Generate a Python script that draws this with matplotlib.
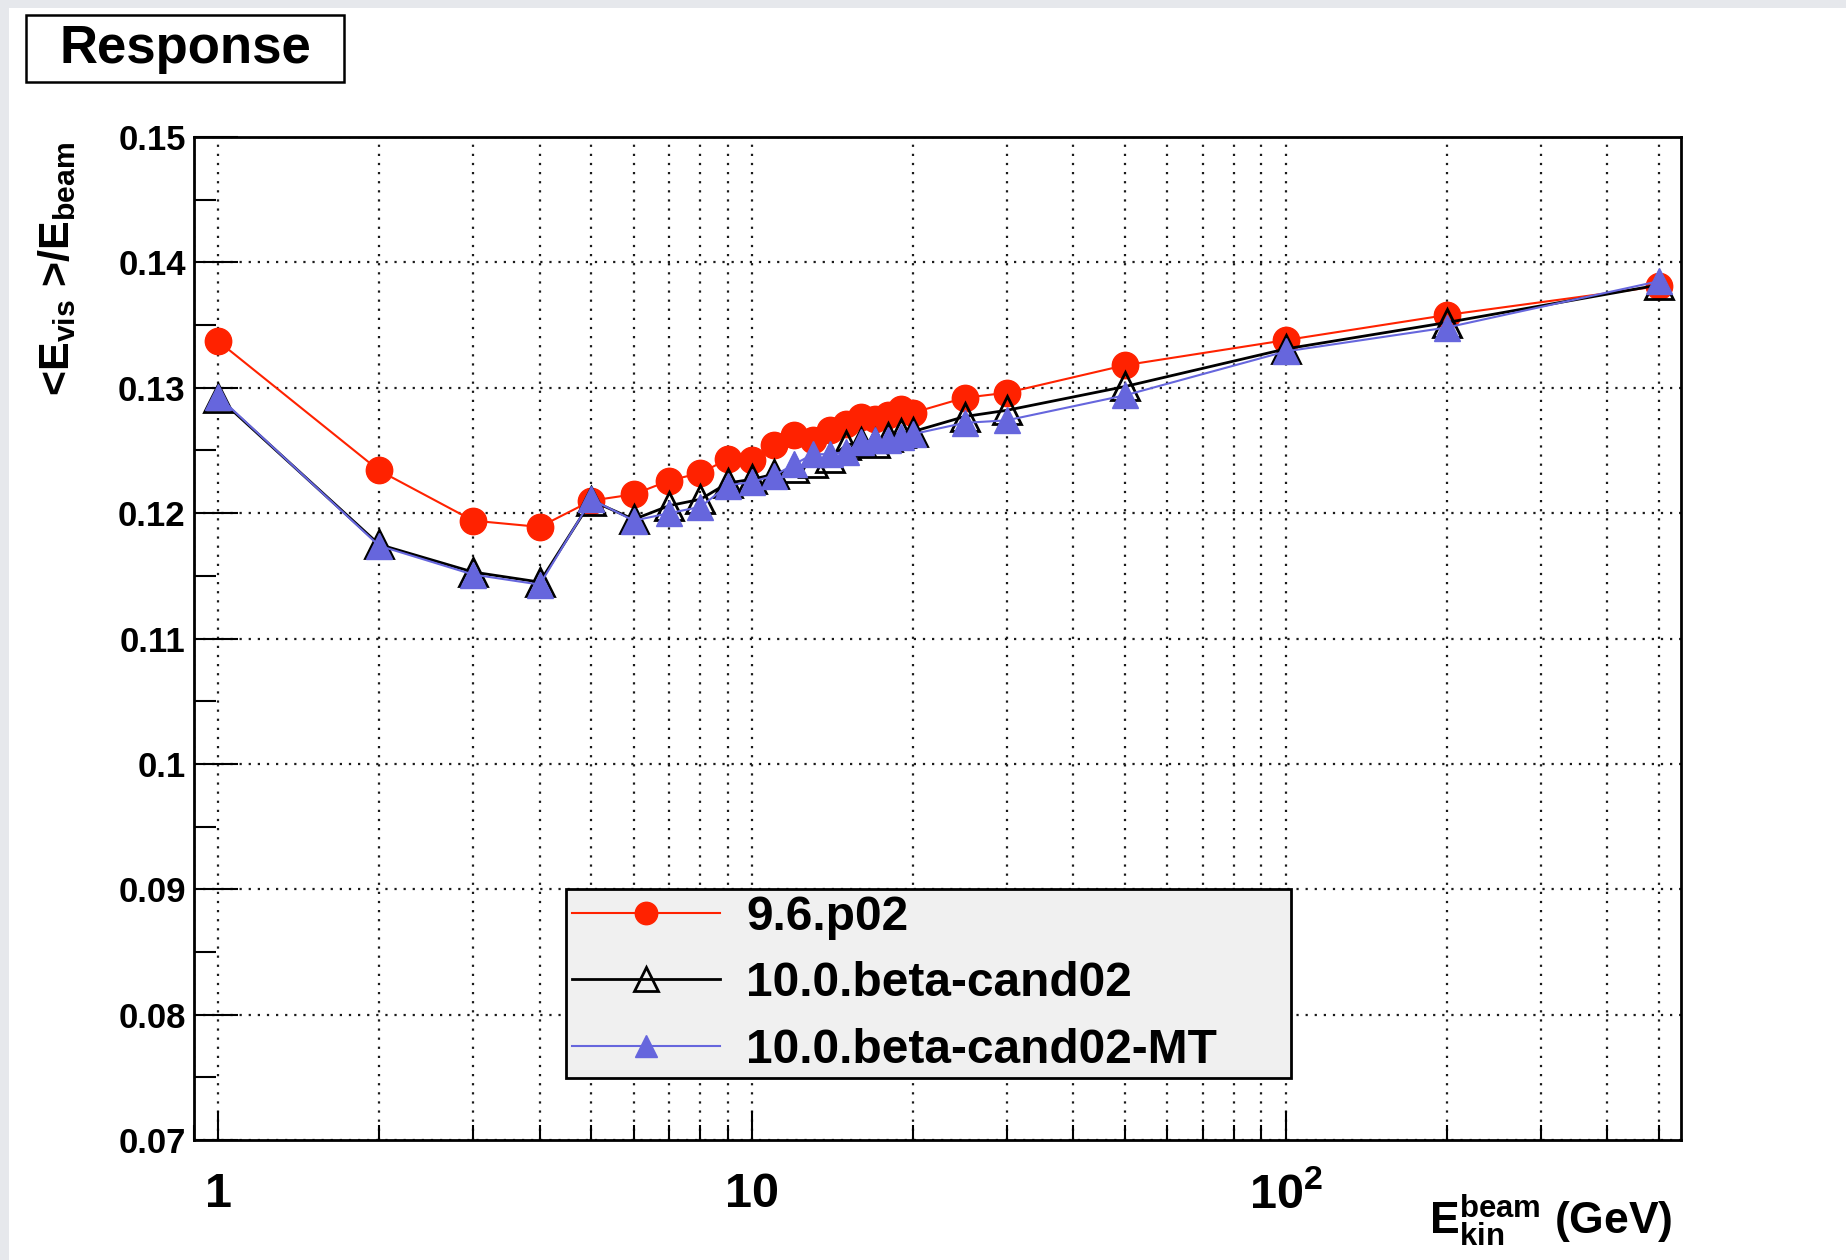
import matplotlib
matplotlib.use('Agg')
import matplotlib.pyplot as plt
from matplotlib.patches import Rectangle
from matplotlib.ticker import FixedLocator, FixedFormatter, NullFormatter, LogLocator

plt.rcParams['font.family'] = ['Liberation Sans', 'DejaVu Sans']
plt.rcParams['font.weight'] = 'bold'
plt.rcParams['axes.labelweight'] = 'bold'
plt.rcParams['mathtext.fontset'] = 'custom'
plt.rcParams['mathtext.rm'] = 'Liberation Sans:bold'
plt.rcParams['mathtext.it'] = 'Liberation Sans:bold'
plt.rcParams['mathtext.bf'] = 'Liberation Sans:bold'

# Energia cinetica del haz (GeV)
energia = [1, 2, 3, 4, 5, 6, 7, 8, 9, 10, 11, 12, 13, 14, 15, 16, 17, 18, 19, 20,
           25, 30, 50, 100, 200, 500]

# Respuesta <E_vis>/E_beam por version
resp_96p02 = [0.1337, 0.1234, 0.1194, 0.1189, 0.1210, 0.1215, 0.1226, 0.1232, 0.1243, 0.1242,
              0.1254, 0.1262, 0.1258, 0.1266, 0.1271, 0.1277, 0.1275, 0.1278, 0.1283, 0.1280,
              0.1292, 0.1296, 0.1318, 0.1338, 0.1358, 0.1381]
resp_cand02 = [0.1292, 0.1175, 0.1153, 0.1145, 0.1210, 0.1195, 0.1206, 0.1211, 0.1224, 0.1227,
               0.1231, 0.1236, 0.1240, 0.1244, 0.1254, 0.1257, 0.1256, 0.1261, 0.1264, 0.1265,
               0.1277, 0.1282, 0.1301, 0.1331, 0.1352, 0.1382]
resp_cand02_mt = [0.1293, 0.1174, 0.1151, 0.1143, 0.1211, 0.1194, 0.1200, 0.1205, 0.1222, 0.1225,
                  0.1230, 0.1239, 0.1247, 0.1247, 0.1249, 0.1257, 0.1258, 0.1258, 0.1261, 0.1263,
                  0.1272, 0.1274, 0.1294, 0.1329, 0.1348, 0.1385]

etiquetas = ['9.6.p02', '10.0.beta-cand02', '10.0.beta-cand02-MT']

y_ticks = [0.07, 0.08, 0.09, 0.1, 0.11, 0.12, 0.13, 0.14, 0.15]
y_labels = ['0.07', '0.08', '0.09', '0.1', '0.11', '0.12', '0.13', '0.14', '0.15']
x_ticks = [1, 10, 100]
x_labels = ['1', '10', r'$10^{2}$']

fig = plt.figure(figsize=(18.46, 12.6), dpi=100)
fig.patch.set_facecolor('white')

# Borde gris de la ventana
fig.add_artist(Rectangle((0, 0), 9 / 1846, 1, transform=fig.transFigure,
                         facecolor='#e6e8ec', edgecolor='none', zorder=-5))
fig.add_artist(Rectangle((0, 1 - 8 / 1260), 1, 8 / 1260, transform=fig.transFigure,
                         facecolor='#e6e8ec', edgecolor='none', zorder=-5))

ax = fig.add_axes([194 / 1846, 1 - 1140 / 1260, 1487 / 1846, 1003 / 1260])

ax.plot(energia, resp_96p02, color='#ff2200', lw=1.5, marker='o', ms=19,
        mec='#ff2200', mfc='#ff2200', label=etiquetas[0], zorder=3)
ax.plot(energia, resp_cand02, color='black', lw=2, marker='^', ms=19.5,
        mec='black', mfc='none', mew=2, label=etiquetas[1], zorder=4)
ax.plot(energia, resp_cand02_mt, color='#6666dd', lw=1.5, marker='^', ms=19,
        mec='#6666dd', mfc='#6666dd', label=etiquetas[2], zorder=5)

ax.set_xscale('log')
ax.set_xlim(0.9, 550)
ax.set_ylim(0.07, 0.15)

ax.xaxis.set_major_locator(FixedLocator(x_ticks))
ax.xaxis.set_major_formatter(FixedFormatter(x_labels))
ax.xaxis.set_minor_locator(LogLocator(base=10, subs=range(2, 10)))
ax.xaxis.set_minor_formatter(NullFormatter())
ax.yaxis.set_major_locator(FixedLocator(y_ticks))
ax.yaxis.set_major_formatter(FixedFormatter(y_labels))
ax.yaxis.set_minor_locator(FixedLocator([0.075, 0.085, 0.095, 0.105, 0.115, 0.125, 0.135, 0.145]))

ax.tick_params(axis='y', which='major', direction='in', length=32, width=1.5,
               labelsize=25, pad=6, right=False)
ax.tick_params(axis='y', which='minor', direction='in', length=16, width=1.5, right=False)
ax.tick_params(axis='x', which='major', direction='in', length=21, width=1.5,
               labelsize=35, pad=23, top=False)
ax.tick_params(axis='x', which='minor', direction='in', length=10.5, width=1.5, top=False)

grid_kw = dict(color='#1a1a1a', lw=1.6, linestyle=(0, (1, 3.1)))
ax.grid(True, which='both', axis='x', **grid_kw)
ax.grid(True, which='major', axis='y', **grid_kw)
ax.set_axisbelow(True)

for s in ax.spines.values():
    s.set_linewidth(2)

ax.set_ylabel(r'<E$_{\rm vis}$ >/E$_{\rm beam}$', fontsize=31, fontweight='bold', loc='top')
ax.yaxis.set_label_coords(-0.078, 0.995)
ax.set_xlabel(r'E$_{\rm kin}^{\rm beam}$ (GeV)', fontsize=32, fontweight='bold', loc='right')
ax.xaxis.set_label_coords(0.994, -0.052)
ax.xaxis.label.set_va('top')

leg = ax.legend(loc='lower left', bbox_to_anchor=(0.25, 0.0614, 0.488, 0.1865),
                mode='expand', borderaxespad=0, fontsize=34.5, handlelength=3.1,
                handletextpad=0.55, labelspacing=0.45, borderpad=0.12, markerscale=0.85,
                fancybox=False, edgecolor='black', facecolor='#f0f0f0', framealpha=1)
leg.get_frame().set_linewidth(2)

# Recuadro del titulo
fig.add_artist(Rectangle((26 / 1846, 1 - 82 / 1260), 318 / 1846, 67 / 1260,
                         transform=fig.transFigure, facecolor='white',
                         edgecolor='black', lw=1.8))
fig.text(185 / 1846, 1 - 49 / 1260, 'Response', fontsize=38, fontweight='bold',
         ha='center', va='center')

fig.savefig('out.png', dpi=100)
